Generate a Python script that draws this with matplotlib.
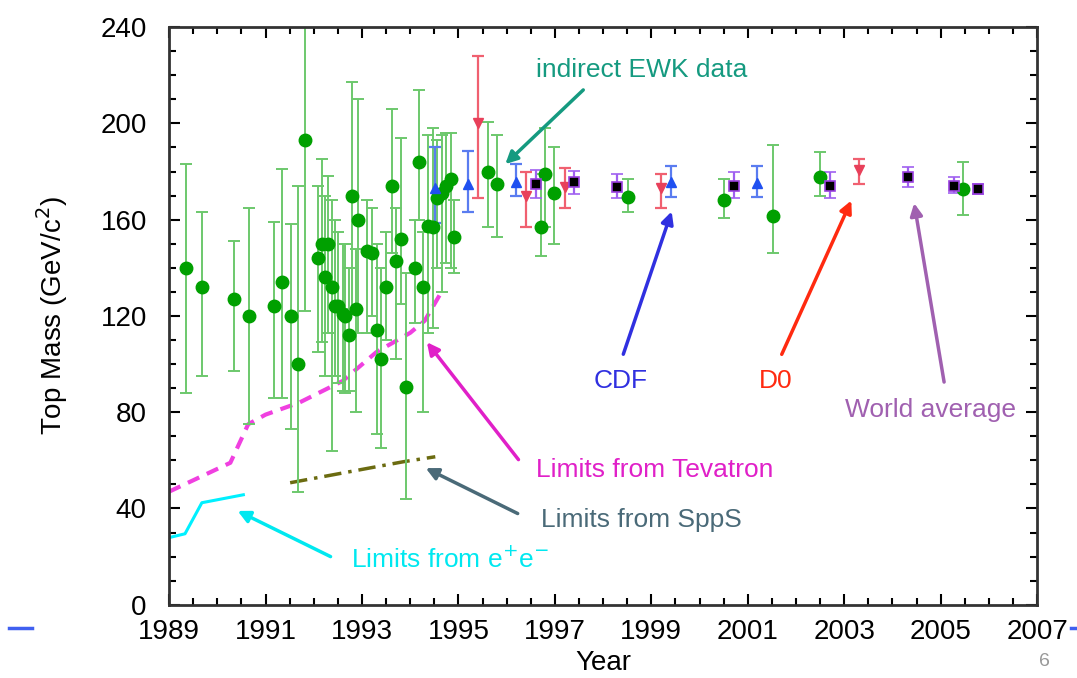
import numpy as np
import matplotlib
matplotlib.use("Agg")
import matplotlib.pyplot as plt
from matplotlib.ticker import MultipleLocator

plt.rcParams['font.family'] = ['Liberation Sans', 'DejaVu Sans']

# -----------------------------
# Data
# -----------------------------
# indirect EWK fits (green circles): year, mass, lower end, upper end
ewk_year = [1989.35, 1989.68, 1990.35, 1990.66, 1991.18, 1991.34, 1991.53, 1991.68, 1991.82,
            1992.09, 1992.17, 1992.30, 1992.24, 1992.38, 1992.44, 1992.51, 1992.61, 1992.65,
            1992.73, 1992.80, 1992.88, 1992.92, 1993.11, 1993.21, 1993.32, 1993.40, 1993.50,
            1993.63, 1993.71, 1993.81, 1993.92, 1994.10, 1994.19, 1994.27, 1994.37, 1994.48,
            1994.56, 1994.66, 1994.75, 1994.85, 1994.91,
            1995.62, 1995.80, 1996.71, 1996.80, 1996.98, 1998.52, 2000.51, 2001.53, 2002.50, 2005.47]
ewk_mass = [140, 132, 127, 120, 124, 134, 120, 100, 193,
            144, 150, 150, 136, 132, 124, 124, 121, 120,
            112, 170, 123, 160, 147, 146, 114, 102, 132,
            174, 143, 152, 90.5, 140, 184, 132, 157.5, 157,
            169, 171, 174, 177, 153,
            180, 175, 157, 179, 171, 169.5, 168, 161.5, 177.7, 172.8]
ewk_lo = [88, 95, 97, 75, 86, 86, 73, 47, 122,
          105, 109, 113, 95, 64, 95, 92, 89, 88,
          89, 123, 80, 113, 113, 120, 71, 65, 110,
          146, 102, 125, 44, 117, 160, 80, 113, 115,
          140, 130, 142, 140, 138,
          157, 153, 145, 157, 150, 163, 160.7, 146, 170, 162]
ewk_hi = [183, 163, 151, 165, 159, 181, 158, 174, 262,
          174, 185, 178, 170, 168, 160, 155, 150, 150,
          140, 217, 148, 210, 168, 165, 150, 140, 155,
          206, 165, 194, 138, 160, 214, 155, 195, 198,
          193, 195, 196, 196, 168,
          200.6, 195, 179, 198, 190, 177, 177, 191, 188, 184]

# CDF (blue up-triangles)
cdf_year = [1994.52, 1995.20, 1996.20, 1999.41, 2001.20]
cdf_mass = [173, 175, 175.7, 175.7, 175.2]
cdf_lo = [158.5, 163, 170, 169.5, 169.5]
cdf_hi = [190, 188.5, 183, 182.5, 182.5]

# D0 (red down-triangles)
d0_year = [1995.41, 1996.41, 1997.20, 1999.19, 2003.30]
d0_mass = [200, 170, 173.6, 173, 180.6]
d0_lo = [169, 157, 165, 165, 175]
d0_hi = [228, 180, 181.5, 179, 185]

# World average (black squares)
wa_year = [1996.61, 1997.40, 1998.29, 2000.72, 2002.71, 2004.33, 2005.27, 2005.78]
wa_mass = [174.8, 175.6, 173.6, 174, 174, 177.7, 174, 172.8]
wa_lo = [169, 170.7, 169, 169, 169, 173.6, 171, 170.6]
wa_hi = [180.6, 180.3, 179, 179.8, 179.8, 182, 177.7, 175]

# Lower limits
tev_year = [1989.0, 1990.27, 1990.64, 1991.0, 1991.7, 1992.6, 1993.3, 1994.0, 1994.3, 1994.62]
tev_mass = [47, 59, 75, 79, 84, 93, 105, 113, 118, 129]
sps_year = [1991.51, 1993.85, 1994.52]
sps_mass = [50.7, 59.4, 61.5]
ee_year = [1989.02, 1989.33, 1989.68, 1990.54]
ee_mass = [28, 29.5, 42.4, 45.7]

year_ticks = list(range(1989, 2008, 2))


def err(mass, lo, hi):
    m = np.array(mass)
    return [m - np.array(lo), np.array(hi) - m]


# -----------------------------
# Plot
# -----------------------------
fig = plt.figure(figsize=(10.77, 6.78), dpi=100)
ax = fig.add_axes([0.157, 0.108, 0.806, 0.852])

ax.plot(tev_year, tev_mass, color='#f040e0', lw=3, ls=(0, (3, 2)))
ax.plot(sps_year, sps_mass, color='#6b6b10', lw=2.5, ls=(0, (5, 2, 1, 2)))
ax.plot(ee_year, ee_mass, color='#00f0ff', lw=2.2)

ax.errorbar(ewk_year, ewk_mass, yerr=err(ewk_mass, ewk_lo, ewk_hi), fmt='o', color='#00a000',
            ms=9, ecolor='#6cc86c', elinewidth=1.4, capsize=4, capthick=1.4)
ax.errorbar(cdf_year, cdf_mass, yerr=err(cdf_mass, cdf_lo, cdf_hi), fmt='^', color='#2050f0',
            ms=7.5, ecolor='#5a7cf0', elinewidth=1.6, capsize=4, capthick=1.6)
ax.errorbar(d0_year, d0_mass, yerr=err(d0_mass, d0_lo, d0_hi), fmt='v', color='#e8405a',
            ms=7.5, ecolor='#f06070', elinewidth=1.6, capsize=4, capthick=1.6)
ax.errorbar(wa_year, wa_mass, yerr=err(wa_mass, wa_lo, wa_hi), fmt='s', color='black',
            mec='#9a40e0', mew=1.2, ms=7.5, ecolor='#a060f0', elinewidth=1.6, capsize=4, capthick=1.6)

# -----------------------------
# Annotations
# -----------------------------
notes = [
    ("indirect EWK data", (1998.79, 222), (1997.63, 214.7), (1995.93, 182.3), '#159a80'),
    ("CDF", (1998.36, 93), (1998.40, 103), (1999.44, 164.5), '#3030e0'),
    ("D0", (2001.57, 93), (2001.68, 103), (2003.17, 169), '#ff2a10'),
    ("World average", (2004.79, 81), (2005.08, 91.4), (2004.44, 168), '#a060b0'),
    ("Limits from Tevatron", (1999.06, 56), (1996.28, 59.4), (1994.31, 110), '#e020c8'),
    ("Limits from SppS", (1998.79, 35.3), (1996.28, 37.4), (1994.27, 57.3), '#4a6a78'),
    ("Limits from e$^{+}$e$^{-}$", (1994.83, 18.7), (1992.40, 19.5), (1990.37, 39.5), '#00e8f0'),
]
for label, tpos, tail, head, col in notes:
    ax.text(tpos[0], tpos[1], label, color=col, fontsize=19, ha='center', va='center')
    ax.annotate("", xy=head, xytext=tail,
                arrowprops=dict(arrowstyle='-|>', color=col, lw=2.5, mutation_scale=18))

# -----------------------------
# Axes styling
# -----------------------------
ax.set_xlim(1989, 2007)
ax.set_ylim(0, 240)
ax.set_xticks(year_ticks)
ax.xaxis.set_minor_locator(MultipleLocator(0.5))
ax.yaxis.set_major_locator(MultipleLocator(40))
ax.yaxis.set_minor_locator(MultipleLocator(10))
ax.tick_params(which='both', direction='in', top=True, right=True, width=1.5, labelsize=20)
ax.tick_params(which='major', length=8)
ax.tick_params(which='minor', length=5)
ax.tick_params(axis='x', which='major', pad=10)
ax.tick_params(axis='y', which='major', pad=16)
for s in ax.spines.values():
    s.set_linewidth(2)
    s.set_color('#333333')

ax.set_xlabel("Year", fontsize=20, labelpad=4)
ax.set_ylabel("Top Mass (GeV/c$^{2}$)", fontsize=20, labelpad=22)

# slide furniture: page number and small blue marks at the edges
fig.text(0.97, 0.018, "6", color='#999999', fontsize=14, ha='center')
fig.add_artist(plt.Line2D([0.008, 0.03], [0.074, 0.074], color='#4060f0', lw=2.5))
fig.add_artist(plt.Line2D([0.994, 1.0], [0.074, 0.074], color='#4060f0', lw=2.5))

fig.savefig("out.png", dpi=100)
